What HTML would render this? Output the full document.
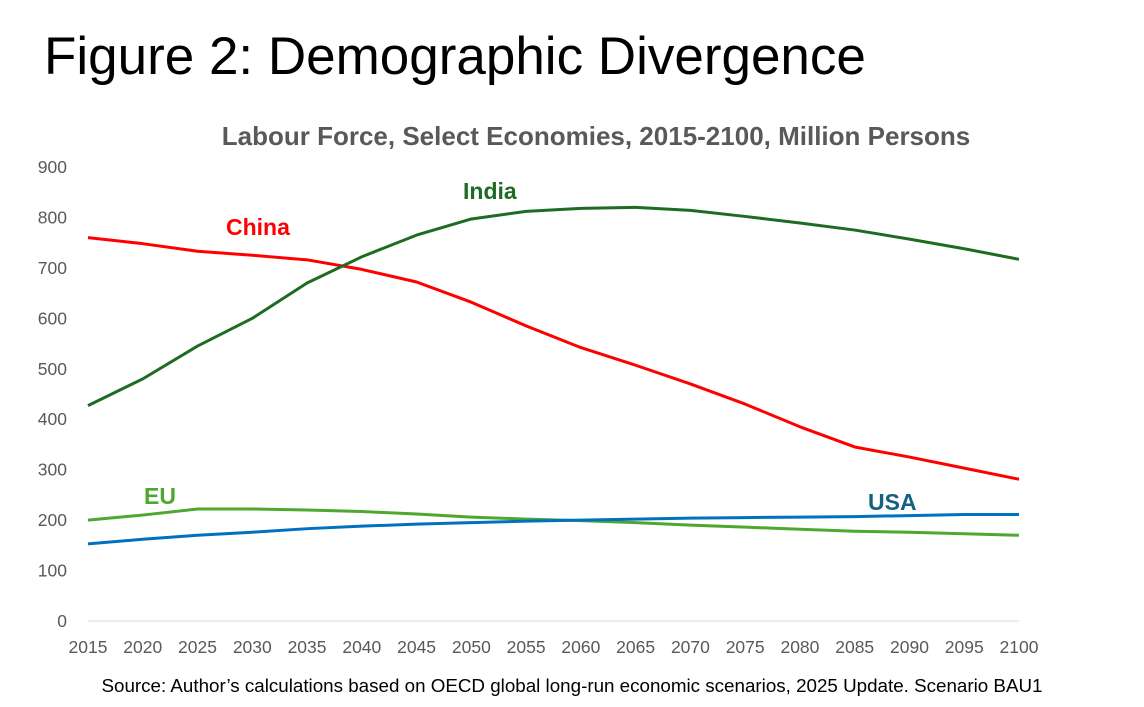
<!DOCTYPE html>
<html><head><meta charset="utf-8">
<style>
body{margin:0;background:#fff;width:1144px;height:707px;overflow:hidden;font-family:"Liberation Sans",sans-serif;}
#title{position:absolute;left:44px;top:26px;font-size:53px;color:#000;}
#src{position:absolute;left:0;width:1144px;text-align:center;top:675px;font-size:18.8px;color:#000;}
svg{position:absolute;left:0;top:0;}
</style></head><body>
<div id="title">Figure 2: Demographic Divergence</div>
<svg id="chart" width="1144" height="707"></svg>
<div id="src">Source: Author’s calculations based on OECD global long-run economic scenarios, 2025 Update. Scenario BAU1</div>
<script>
const years=[2015,2020,2025,2030,2035,2040,2045,2050,2055,2060,2065,2070,2075,2080,2085,2090,2095,2100];
const china=[760,748,733,725,716,697,672,632,585,542,507,470,430,385,345,325,303,281];
const india=[427,480,545,600,670,722,765,797,812,818,820,814,802,789,775,757,738,717];
const eu=[200,210,222,222,220,217,212,206,202,199,195,190,186,182,178,176,173,170];
const usa=[153,162,170,176,183,188,192,195,198,200,202,204,205,206,207,209,211,211];
const yTicks=[0,100,200,300,400,500,600,700,800,900];
const xTicks=[2015,2020,2025,2030,2035,2040,2045,2050,2055,2060,2065,2070,2075,2080,2085,2090,2095,2100];
const NS='http://www.w3.org/2000/svg';
const svg=document.getElementById('chart');
const x=v=>88+(v-2015)*(1019-88)/85;
const y=v=>621-v*(621-167)/900;
function el(t,a,txt){const e=document.createElementNS(NS,t);for(const k in a)e.setAttribute(k,a[k]);if(txt!==undefined)e.textContent=txt;svg.appendChild(e);return e;}
const ct=el('text',{x:596,y:145,'text-anchor':'middle','font-size':26,'font-weight':'bold',fill:'#595959'},'Labour Force, Select Economies, 2015-2100, Million Persons');


yTicks.forEach(v=>{const t=el('text',{x:67,y:y(v)+6,'text-anchor':'end','font-size':17.5,fill:'#595959'},v);

});
const ax=el('line',{x1:88,x2:1019,y1:y(0),y2:y(0),stroke:'#d9d9d9','stroke-width':1});


xTicks.forEach(v=>{const t=el('text',{x:x(v),y:653,'text-anchor':'middle','font-size':17.5,fill:'#595959'},v);

});
function series(d,c,name){const p=el('polyline',{points:d.map((v,i)=>x(years[i])+','+y(v)).join(' '),fill:'none',stroke:c,'stroke-width':3,'stroke-linejoin':'round'});

}
series(eu,'#4ea72e','eu-line');
series(usa,'#0070c0','usa-line');
series(china,'#ff0000','china-line');
series(india,'#1e6b24','india-line');
function lab(t,xx,yy,c,n){const e=el('text',{x:xx,y:yy,'font-size':23,'font-weight':'bold',fill:c},t);

}
lab('China',226,235,'#ff0000','china-label');
lab('India',463,199,'#1e6b24','india-label');
lab('EU',144,504,'#4ea72e','eu-label');
lab('USA',868,510,'#156082','usa-label');
</script>
</body></html>
